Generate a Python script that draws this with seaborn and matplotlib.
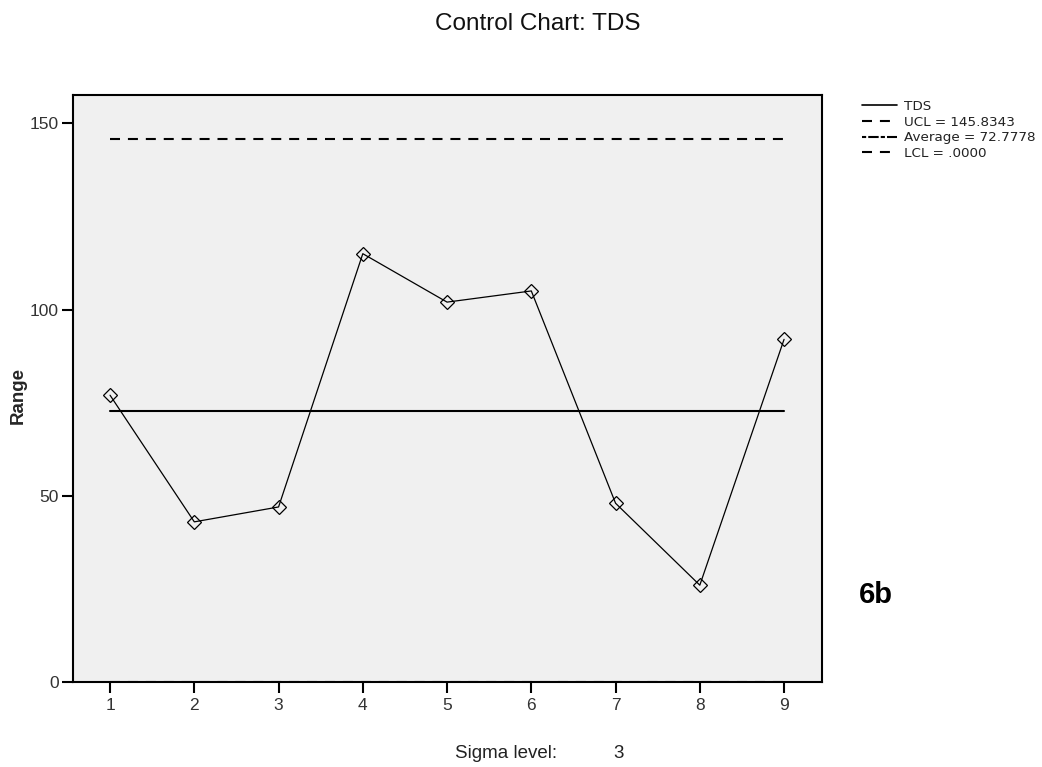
import matplotlib
matplotlib.use('Agg')
import matplotlib.pyplot as plt
import seaborn as sns
import pandas as pd

# control chart values (range per sample)
samples = [1, 2, 3, 4, 5, 6, 7, 8, 9]
ranges = [77, 43, 47, 115, 102, 105, 48, 26, 92]
ucl = 145.8343
average = 72.7778
lcl = 0.0
y_ticks = [0, 50, 100, 150]

sns.set_style('white')
plt.rcParams['font.family'] = ['Liberation Sans', 'DejaVu Sans']

df = pd.DataFrame({'sample': samples, 'range': ranges})

fig = plt.figure(figsize=(10.42, 7.67), dpi=100)
ax = fig.add_axes([0.0698, 0.1108, 0.7188, 0.7653])
ax.set_facecolor('#f0f0f0')

# limit lines
l_ucl, = ax.plot([samples[0], samples[-1]], [ucl, ucl], color='black', lw=1.5,
                 ls=(0, (4.8, 3.8)))
l_avg, = ax.plot([samples[0], samples[-1]], [average, average], color='black', lw=1.5)
l_lcl, = ax.plot([samples[0], samples[-1]], [lcl, lcl], color='black', lw=1.5,
                 ls=(0, (4.8, 3.8)))

sns.lineplot(data=df, x='sample', y='range', ax=ax, color='black', lw=0.9,
             marker='D', markersize=7.5, markerfacecolor='none',
             markeredgecolor='black', markeredgewidth=0.9)

ax.set_xlim(0.557, 9.447)
ax.set_ylim(0, 157.6)
ax.set_xticks(samples)
ax.set_yticks(y_ticks)
ax.tick_params(axis='both', direction='out', length=8, width=1.5,
               labelsize=12.5, labelcolor='#333333', color='black',
               bottom=True, left=True)
ax.tick_params(axis='y', pad=2)
ax.tick_params(axis='x', pad=3.5)
for s in ax.spines.values():
    s.set_linewidth(1.5)
    s.set_color('black')

ax.set_xlabel('')
ax.set_ylabel('')
fig.text(18 / 1042, 1 - 396 / 767, 'Range', rotation=90, ha='center', va='center',
         fontsize=13.5, fontweight='bold')

fig.text(0.516, 0.969, 'Control Chart: TDS', ha='center', va='center',
         fontsize=17.5, color='#111111')
fig.text(455 / 1042, 1 - 753 / 767, 'Sigma level:', ha='left', va='center',
         fontsize=13.5, color='#222222')
fig.text(613 / 1042, 1 - 753 / 767, '3', ha='left', va='center',
         fontsize=13.5, color='#222222')
fig.text(876 / 1042, 1 - 595 / 767, '6b', ha='center', va='center',
         fontsize=21, fontweight='bold', color='black')

tds_handle = plt.Line2D([], [], color='black', lw=1.2)
avg_handle = plt.Line2D([], [], color='black', lw=1.5, ls=(0, (2, 1, 5, 1)))
fig.legend([tds_handle, l_ucl, avg_handle, l_lcl],
           ['TDS', 'UCL = 145.8343', 'Average = 72.7778', 'LCL = .0000'],
           loc='upper left', bbox_to_anchor=(862 / 1042, 1 - 100 / 767),
           frameon=False, borderaxespad=0, borderpad=0,
           prop={'family': 'DejaVu Sans', 'size': 9.7},
           handlelength=2.6, handletextpad=0.55, labelspacing=0.2,
           labelcolor='#222222')

fig.savefig('out.png', dpi=100)
